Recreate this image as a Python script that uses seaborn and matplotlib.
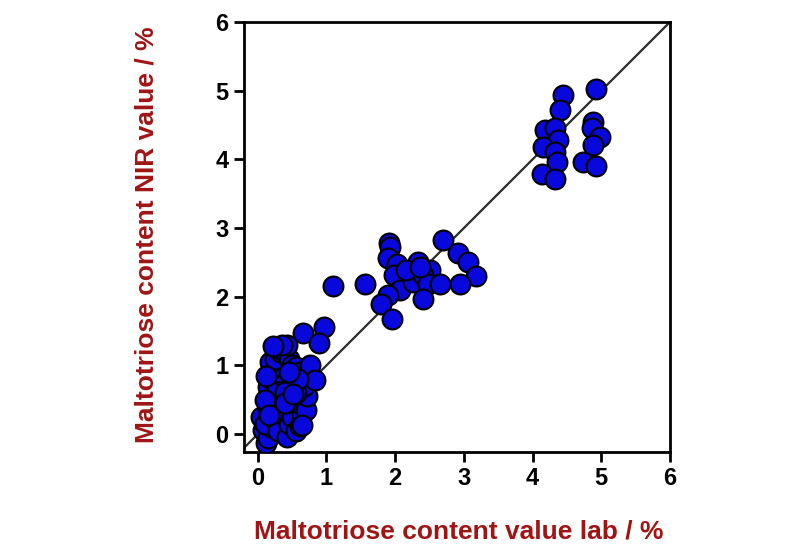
import matplotlib
matplotlib.use("Agg")
import matplotlib.pyplot as plt
import seaborn as sns
import pandas as pd

# lab value (x) vs NIR prediction (y), maltotriose content in %
lab_low = [0.05, 0.08, 0.12, 0.15, 0.20, 0.10, 0.18, 0.25, 0.30, 0.35, 0.42, 0.45, 0.50,
           0.55, 0.62, 0.65, 0.60, 0.70, 0.72, 0.68, 0.55, 0.50, 0.40, 0.30, 0.22, 0.15,
           0.20, 0.28, 0.35, 0.31, 0.20, 0.18, 0.25, 0.32, 0.28, 0.40, 0.45, 0.50, 0.56,
           0.62, 0.76, 0.83, 0.42, 0.35, 0.15, 0.10, 0.40, 0.58, 0.45, 0.12, 0.22, 0.66,
           0.96, 0.89, 0.17, 0.39, 0.64, 0.51]
nir_low = [0.25, 0.06, -0.13, -0.05, 0.10, 0.15, 0.28, 0.20, 0.05, 0.30, -0.04, 0.15, 0.25,
           0.05, 0.12, 0.30, 0.45, 0.35, 0.55, 0.70, 0.60, 0.75, 0.45, 0.50, 0.55, 0.68,
           0.80, 0.70, 0.85, 0.91, 0.95, 1.05, 1.10, 1.20, 1.25, 1.20, 1.10, 1.00, 0.98,
           0.90, 1.00, 0.79, 1.30, 1.30, 0.40, 0.50, 0.62, 0.80, 0.90, 0.85, 1.28, 1.47,
           1.56, 1.33, 0.28, 0.45, 0.13, 0.59]

lab_mid = [1.10, 1.56, 1.91, 1.93, 1.90, 2.02, 1.99, 2.07, 1.90, 1.80, 1.95, 2.33, 2.26,
           2.50, 2.41, 2.48, 2.65, 2.40, 2.69, 2.92, 3.06, 3.18, 2.95, 2.16, 2.36]
nir_mid = [2.15, 2.18, 2.78, 2.73, 2.57, 2.48, 2.31, 2.10, 2.02, 1.90, 1.68, 2.51, 2.22,
           2.39, 2.31, 2.19, 2.18, 1.97, 2.83, 2.63, 2.51, 2.30, 2.19, 2.39, 2.44]

lab_high = [4.44, 4.92, 4.40, 4.18, 4.32, 4.37, 4.88, 4.86, 4.98, 4.88, 4.15, 4.32, 4.35,
            4.74, 4.93, 4.13, 4.32]
nir_high = [4.93, 5.03, 4.72, 4.43, 4.45, 4.28, 4.55, 4.45, 4.33, 4.21, 4.18, 4.11, 3.96,
            3.96, 3.90, 3.79, 3.72]

ticks = [0, 1, 2, 3, 4, 5, 6]

LABEL_RED = "#a01414"

df = pd.DataFrame({
    "lab": lab_low + lab_mid + lab_high,
    "nir": nir_low + nir_mid + nir_high,
})

fig = plt.figure(figsize=(8, 5.58), dpi=100)
sns.set_style("white")
plt.rcParams["font.family"] = ["Liberation Sans", "DejaVu Sans"]
ax = fig.add_axes([0.305, 0.19, 0.5325, 0.7706])

ax.plot([-0.4, 6.2], [-0.4, 6.2], color="#2b2b2b", lw=1.6, zorder=1)
sns.scatterplot(data=df, x="lab", y="nir", ax=ax, s=205, color="#0808dc",
                edgecolor="black", linewidth=1.5, zorder=3, legend=False)

ax.set_xlim(-0.2, 6)
ax.set_ylim(-0.26, 6)
ax.set_xticks(ticks)
ax.set_yticks(ticks)
ax.set_xticklabels([str(t) for t in ticks], fontsize=17, fontweight="bold")
ax.set_yticklabels([str(t) for t in ticks], fontsize=17, fontweight="bold")
ax.tick_params(direction="out", length=7, width=2, colors="black", pad=4,
               bottom=True, left=True)
for sp in ax.spines.values():
    sp.set_linewidth(2)
    sp.set_color("black")

ax.set_xlabel("Maltotriose content value lab / %", fontsize=19, fontweight="bold",
              color=LABEL_RED)
ax.set_ylabel("Maltotriose content NIR value / %", fontsize=19, fontweight="bold",
              color=LABEL_RED)
ax.xaxis.set_label_coords(0.505, -0.158)
ax.yaxis.set_label_coords(-0.2, 0.505)

fig.savefig("out.png", dpi=100)
